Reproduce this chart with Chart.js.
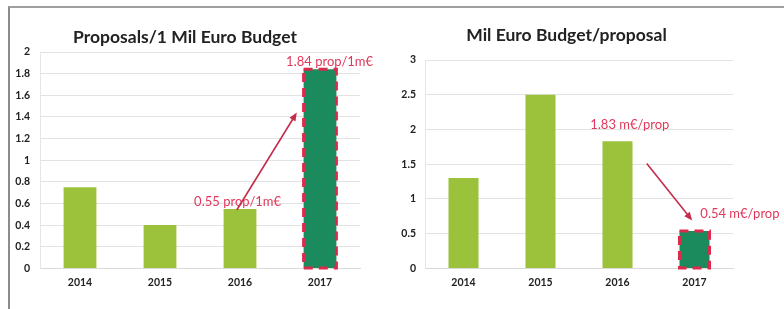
<!DOCTYPE html>
<html><head><meta charset="utf-8">
<script src="https://cdn.jsdelivr.net/npm/chart.js@4.4.1/dist/chart.umd.min.js"></script>
<style>
html,body{margin:0;padding:0;background:#fff;}
#wrap{position:relative;width:784px;height:309px;overflow:hidden;background:#fff;}
#frame{position:absolute;left:8px;top:6px;width:820px;height:340px;border-left:2px solid #8c8c8c;border-top:2px solid #a0a0a0;}
#c1{position:absolute;left:0;top:0;}
#c2{position:absolute;left:392px;top:0;}
</style></head>
<body>
<div id="wrap"><div id="frame"></div>
<canvas id="c1" width="392" height="309"></canvas>
<canvas id="c2" width="392" height="309"></canvas>
</div>
<script>
// ---- data ----
const years = ['2014', '2015', '2016', '2017'];
const proposalsPerMil = [0.75, 0.40, 0.55, 1.84];
const milPerProposal = [1.30, 2.50, 1.83, 0.54];
const leftTitle = 'Proposals/1 Mil Euro Budget';
const rightTitle = 'Mil Euro Budget/proposal';
const leftNoteTexts = ['1.84 prop/1m€', '0.55 prop/1m€'];
const rightNoteTexts = ['1.83 m€/prop', '0.54 m€/prop'];

// ---- styling / placement (in data coordinates) ----
const LIGHT = '#9cc13b', DARK = '#1b8a5c', RED = '#dc2a4c', ARROW = '#c42d4a', NOTE = '#e0385a';
const FONT = 'Lato, "Open Sans", sans-serif';

const leftAnn = {
  highlight: 3,
  notes: [{x: 3.12, y: 1.905}, {x: 1.97, y: 0.62}],
  arrow: {from: [1.96, 0.54], to: [2.71, 1.44]}
};
const rightAnn = {
  highlight: 3,
  notes: [{x: 2.16, y: 2.06}, {x: 3.59, y: 0.79}],
  arrow: {from: [2.38, 1.51], to: [2.97, 0.69]}
};

function fmt(v){ return String(+v.toFixed(1)); }

function makeAnnPlugin(ann, texts){
  return {
    id: 'ann',
    afterDatasetsDraw(chart){
      const ctx = chart.ctx, xs = chart.scales.x, ys = chart.scales.y;
      const bar = chart.getDatasetMeta(0).data[ann.highlight];
      const p = bar.getProps(['x','y','base','width'], true);
      ctx.save();
      ctx.strokeStyle = RED; ctx.lineWidth = 3; ctx.setLineDash([9, 6]);
      ctx.strokeRect(p.x - p.width/2, p.y, p.width, p.base - p.y);
      ctx.setLineDash([]);
      ctx.font = '13px ' + FONT; ctx.fillStyle = NOTE;
      ctx.textAlign = 'center'; ctx.textBaseline = 'middle';
      ann.notes.forEach((n, i) => {
        ctx.fillText(texts[i], xs.getPixelForValue(n.x), ys.getPixelForValue(n.y));
      });
      const x1 = xs.getPixelForValue(ann.arrow.from[0]), y1 = ys.getPixelForValue(ann.arrow.from[1]);
      const x2 = xs.getPixelForValue(ann.arrow.to[0]), y2 = ys.getPixelForValue(ann.arrow.to[1]);
      const ang = Math.atan2(y2 - y1, x2 - x1), h = 9;
      ctx.strokeStyle = ARROW; ctx.fillStyle = ARROW; ctx.lineWidth = 1.6;
      ctx.beginPath(); ctx.moveTo(x1, y1);
      ctx.lineTo(x2 - Math.cos(ang)*h*0.8, y2 - Math.sin(ang)*h*0.8); ctx.stroke();
      ctx.beginPath(); ctx.moveTo(x2, y2);
      ctx.lineTo(x2 - h*Math.cos(ang - 0.4), y2 - h*Math.sin(ang - 0.4));
      ctx.lineTo(x2 - h*Math.cos(ang + 0.4), y2 - h*Math.sin(ang + 0.4));
      ctx.closePath(); ctx.fill();
      ctx.restore();
    }
  };
}

function makeChart(id, values, title, yMax, yStep, barPct, pad, titlePad, yWidth, tickPad, ann, texts){
  return new Chart(document.getElementById(id), {
    type: 'bar',
    data: {
      labels: years,
      datasets: [{
        data: values,
        backgroundColor: values.map((v, i) => i === ann.highlight ? DARK : LIGHT),
        borderWidth: 0,
        barPercentage: barPct,
        categoryPercentage: 1
      }]
    },
    options: {
      responsive: false, animation: false,
      layout: { padding: pad },
      plugins: {
        legend: { display: false }, tooltip: { enabled: false },
        title: { display: true, text: title, color: '#222',
          font: { family: FONT, size: 17.5, weight: 'bold' }, padding: titlePad }
      },
      scales: {
        x: {
          grid: { display: false, drawTicks: false },
          border: { color: '#d9d9d9' },
          ticks: { color: '#222', font: { family: FONT, size: 10.5, weight: 'bold' }, padding: 8 }
        },
        y: {
          min: 0, max: yMax,
          afterFit(s){ s.width = yWidth; },
          grid: { color: '#e2e2e2', drawTicks: false },
          border: { color: '#e6e6e6' },
          ticks: { stepSize: yStep, color: '#222', font: { family: FONT, size: 10.5, weight: 'bold' },
                   padding: tickPad, callback: v => fmt(v) }
        }
      }
    },
    plugins: [makeAnnPlugin(ann, texts)]
  });
}

makeChart('c1', proposalsPerMil, leftTitle, 2, 0.2, 0.41,
  {left: 10, right: 32, top: 26.5, bottom: 12}, {top: 0, bottom: 4.5}, 30, 10, leftAnn, leftNoteTexts);
makeChart('c2', milPerProposal, rightTitle, 3, 0.5, 0.39,
  {left: 8, right: 51, top: 24.5, bottom: 12}, {top: 0, bottom: 14.5}, 25, 9, rightAnn, rightNoteTexts);
</script>
</body></html>
